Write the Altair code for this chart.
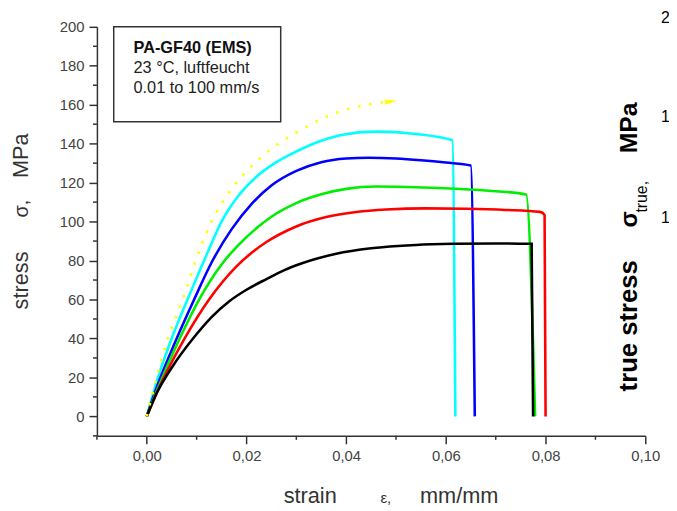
import altair as alt
import pandas as pd

FONT = "Liberation Sans, Arial, sans-serif"

# ---------------- data ----------------
series_names = ["cyan", "blue", "green", "red", "black"]
series_colors = ["#00ffff", "#0000ff", "#00ee00", "#ff0000", "#000000"]

cyan_strain = [0, 0.002, 0.005, 0.0085, 0.012, 0.015, 0.018, 0.022, 0.026, 0.030, 0.035, 0.039, 0.046, 0.054, 0.0613, 0.0619]
cyan_stress = [0, 18, 40, 62, 83, 100, 112, 123, 130.5, 136, 141.5, 144.5, 146.2, 145, 141.8, 0]

blue_strain = [0, 0.002, 0.005, 0.0095, 0.013, 0.017, 0.021, 0.025, 0.030, 0.035, 0.040, 0.0445, 0.050, 0.055, 0.060, 0.065, 0.0658]
blue_stress = [0, 15, 34, 60, 79, 96, 109, 118.5, 126, 130.5, 132.4, 132.8, 132.4, 131.5, 130.3, 128.8, 0]

green_strain = [0, 0.002, 0.0066, 0.0105, 0.015, 0.020, 0.025, 0.030, 0.035, 0.040, 0.046, 0.052, 0.062, 0.070, 0.0761, 0.0779]
green_stress = [0, 13, 40, 60, 78, 92, 102.5, 109.5, 114, 116.8, 118, 117.8, 116.9, 115.6, 113.9, 0]

red_strain = [0, 0.002, 0.0076, 0.0125, 0.018, 0.024, 0.030, 0.036, 0.042, 0.048, 0.056, 0.064, 0.072, 0.0789, 0.0798, 0.0800]
red_stress = [0, 12, 40, 60, 77, 89.5, 97.5, 102.3, 104.9, 106.2, 106.8, 106.6, 106, 105, 103.4, 0]

black_strain = [0, 0.002, 0.005, 0.0096, 0.013, 0.0165, 0.020, 0.024, 0.0275, 0.031, 0.038, 0.045, 0.054, 0.062, 0.070, 0.0772, 0.0775]
black_stress = [0, 12, 25, 41, 51, 59, 65, 70.5, 75, 78.5, 83.5, 86.3, 88, 88.6, 88.8, 88.6, 0]

yellow_strain = [0, 0.002, 0.0042, 0.0072, 0.0098, 0.013, 0.018, 0.0225, 0.0267, 0.0309, 0.0352, 0.0394, 0.0436, 0.0478]
yellow_stress = [0, 20, 40, 60, 80, 100, 120, 132, 140.5, 147, 152.8, 157.1, 159.8, 161.4]
arrow_strain = [0.0490]
arrow_stress = [161.6]

x_major = [0.0, 0.02, 0.04, 0.06, 0.08, 0.10]
x_minor = [-0.01, 0.01, 0.03, 0.05, 0.07, 0.09]
y_major = [0, 20, 40, 60, 80, 100, 120, 140, 160, 180, 200]
y_minor = [-10, 10, 30, 50, 70, 90, 110, 130, 150, 170, 190]

box_lines = ["PA-GF40 (EMS)", "23 °C, luftfeucht", "0.01 to 100 mm/s"]

# ---------------- tables ----------------
rows = []
for name, xs_, ys_ in [("cyan", cyan_strain, cyan_stress), ("blue", blue_strain, blue_stress),
                       ("green", green_strain, green_stress), ("red", red_strain, red_stress),
                       ("black", black_strain, black_stress)]:
    for i, (a, b) in enumerate(zip(xs_, ys_)):
        rows.append({"series": name, "strain": a, "stress": b, "i": i})
curves = pd.DataFrame(rows)
yellow = pd.DataFrame({"strain": yellow_strain, "stress": yellow_stress, "i": range(len(yellow_strain))})
arrow = pd.DataFrame({"strain": arrow_strain, "stress": arrow_stress})

W, H = 555, 414
xs = alt.Scale(domain=[-0.01, 0.10], nice=False, zero=False)
ys = alt.Scale(domain=[-10, 200], nice=False, zero=False)

x_axis = alt.Axis(values=x_major, title=None, grid=False, tickSize=8, tickColor="#333", tickWidth=1.5,
                  domainColor="#333", domainWidth=1.5, labelFont=FONT, labelFontSize=15,
                  labelColor="#444", labelPadding=5, labelFlush=False,
                  labelExpr="replace(format(datum.value, '.2f'), '.', ',')")
y_axis = alt.Axis(values=y_major, title=None, grid=False, tickSize=8, tickColor="#333", tickWidth=1.5,
                  domainColor="#333", domainWidth=1.5, labelFont=FONT, labelFontSize=15,
                  labelColor="#444", labelPadding=5, labelFlush=False)

lines = alt.Chart(curves).mark_line(strokeWidth=2.6, interpolate="monotone").encode(
    x=alt.X("strain:Q", scale=xs, axis=x_axis),
    y=alt.Y("stress:Q", scale=ys, axis=y_axis),
    color=alt.Color("series:N", scale=alt.Scale(domain=series_names, range=series_colors), legend=None),
    detail="series:N",
    order="i:Q",
)

yline = alt.Chart(yellow).mark_line(color="#ffff00", strokeWidth=2.6, strokeDash=[2.5, 9],
                                    interpolate="monotone").encode(
    x=alt.X("strain:Q", scale=xs), y=alt.Y("stress:Q", scale=ys), order="i:Q")

yarrow = alt.Chart(arrow).mark_point(shape="M -1 -0.45 L 1 0 L -1 0.45 Z", filled=True, color="#ffff00",
                                     size=150, opacity=1, angle=355).encode(
    x=alt.X("strain:Q", scale=xs), y=alt.Y("stress:Q", scale=ys))

xminor = alt.Chart(pd.DataFrame({"v": x_minor})).mark_rule(color="#333", strokeWidth=1.5).encode(
    x=alt.X("v:Q", scale=xs), y=alt.value(H), y2=alt.value(H + 4))
yminor = alt.Chart(pd.DataFrame({"v": y_minor})).mark_rule(color="#333", strokeWidth=1.5).encode(
    y=alt.Y("v:Q", scale=ys), x=alt.value(-4), x2=alt.value(0))

one = alt.Data(values=[{"k": 1}])

def txt(s, x, y, size, color="#333", weight="normal", angle=0, align="left"):
    return alt.Chart(one).mark_text(text=s, font=FONT, fontSize=size, color=color, fontWeight=weight,
                                    angle=angle, align=align, baseline="alphabetic").encode(
        x=alt.value(x), y=alt.value(y))

box = alt.Chart(one).mark_rect(fill="white", stroke="#333", strokeWidth=1.5).encode(
    x=alt.value(17), x2=alt.value(186), y=alt.value(0), y2=alt.value(96))

texts = [
    txt(box_lines[0], 37, 26, 16.5, color="#111", weight="bold"),
    txt(box_lines[1], 37, 47, 16.5, color="#222"),
    txt(box_lines[2], 37, 67, 16.5, color="#222"),
    # x title
    txt("strain", 189, 482, 22, color="#333"),
    txt("ε,", 287, 482, 15, color="#333"),
    txt("mm/mm", 327, 482, 22, color="#333"),
    # y title
    txt("stress", -70, 286, 22, color="#333", angle=270),
    txt("σ,", -70, 193, 20, color="#333", angle=270),
    txt("MPa", -70, 153, 22, color="#333", angle=270),
    # neighbouring panel fragments
    txt("true stress", 547, 369, 26, color="#000", weight="bold", angle=270),
    txt("σ", 547, 203, 24, color="#000", weight="bold", angle=270),
    txt("true,", 557, 188, 16, color="#000", angle=270),
    txt("MPa", 547, 128, 25, color="#000", weight="bold", angle=270),
    txt("2", 571, -4, 16, color="#000"),
    txt("1", 571, 96, 16, color="#000"),
    txt("1", 571, 199, 16, color="#000"),
]

chart = alt.layer(xminor, yminor, box, lines, yline, yarrow, *texts).properties(
    width=W, height=H,
    autosize=alt.AutoSizeParams(type="none"),
    padding={"left": 90, "top": 16, "right": 24, "bottom": 73},
).configure_view(stroke=None)

chart.save("out.html", embed_options={"renderer": "svg", "actions": False})
